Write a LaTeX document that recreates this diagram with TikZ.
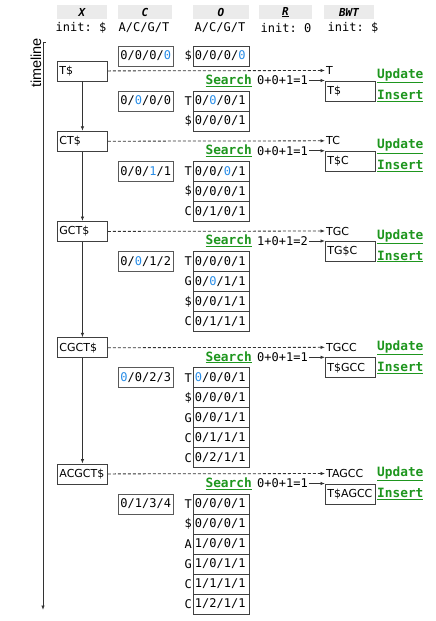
\documentclass[tikz,border=0pt]{standalone}
\usepackage{fontspec}
\setmainfont{DejaVu Sans}
\setmonofont{DejaVu Sans Mono}
\newfontfamily\tlfont{Liberation Sans}
\usetikzlibrary{arrows.meta}
\definecolor{hlblue}{RGB}{40,140,230}
\definecolor{opgreen}{RGB}{30,150,30}
\definecolor{hdrgray}{RGB}{235,235,235}
\newcommand\hlb[1]{\textcolor{hlblue}{#1}}
\newcommand\opname[1]{\textcolor{opgreen}{\underline{#1}}}
\begin{document}
\begin{tikzpicture}[x=1pt,y=-1pt,
    hdr/.style={fill=hdrgray,minimum width=#1,minimum height=14,inner sep=0pt,
      font=\fontsize{11}{13}\selectfont\ttfamily\bfseries\itshape},
    mono/.style={inner sep=1pt,font=\fontsize{12}{14}\selectfont\ttfamily},
    sans/.style={inner sep=1pt,font=\fontsize{11}{13}\selectfont},
    op/.style={inner sep=1pt,font=\fontsize{12.8}{14}\selectfont\ttfamily\bfseries},
    box/.style={draw=black!75,line width=.9pt,minimum height=20,inner xsep=2pt,
      inner ysep=0pt,align=left,anchor=north west},
    xbox/.style={box,text width=46,font=\fontsize{11}{13}\selectfont},
    bbox/.style={box,text width=46,font=\fontsize{11}{13}\selectfont},
    cbox/.style={box,draw=black!65,text width=51,font=\fontsize{12}{14}\selectfont\ttfamily},
    obox/.style={box,text width=53,inner xsep=1.5pt,font=\fontsize{12}{14}\selectfont\ttfamily},
    flow/.style={line width=.8pt,black!80,-{Latex[length=4.5pt,width=3.5pt]}},
    dline/.style={flow,dash pattern=on 3pt off 2pt}]
  \useasboundingbox (0,0) rectangle (436,621);
  \node[hdr=50] (hX) at (82,12) {X};
  \node[hdr=54] (hC) at (145,12) {C};
  \node[hdr=56] (hO) at (221,12) {O};
  \node[hdr=53] (hR) at (285.5,12) {\underline{R}};
  \node[hdr=50] (hB) at (349,12) {BWT};
  \node[mono] (iX) at (81,28) {init: \$};
  \node[mono] (iC) at (144,28) {A/C/G/T};
  \node[mono] (iO) at (220,28) {A/C/G/T};
  \node[mono] (iR) at (286,28) {init: 0};
  \node[mono] (iB) at (353,28) {init: \$};
  \coordinate (t0) at (43,42);
  \coordinate (t1) at (43,610);
  \draw[flow] (t0) -- (t1);
  \draw[line width=.8pt,black!80] (t0) -- ++(3,0);
  \node[rotate=90,inner sep=0pt,font=\fontsize{14.5}{16}\selectfont\tlfont] (tl) at (36,63) {timeline};
  \node[cbox] (c0) at (118,45.5) {0/0/0/\hlb{0}};
  \node[obox] (o0) at (193,45.5) {0/0/0/\hlb{0}};
  \node[mono,anchor=east] at (o0.west) {\$};
  \foreach \k/\y/\xs/\bl/\bb/\sm/\cv/\up/\rows in {
    1/60.5/T\$/T/T\$/0+0+1=1/{0/\hlb{0}/0/0}/15.5/{T/{0/\hlb{0}/0/1},\$/{0/0/0/1}},
    2/130.8/CT\$/TC/T\$C/0+0+1=1/{0/0/\hlb{1}/1}/15.5/{T/{0/0/\hlb{0}/1},\$/{0/0/0/1},C/{0/1/0/1}},
    3/221/GCT\$/TGC/TG\$C/1+0+1=2/{0/\hlb{0}/1/2}/15.5/{T/{0/0/0/1},G/{0/\hlb{0}/1/1},\$/{0/0/1/1},C/{0/1/1/1}},
    4/337.3/CGCT\$/TGCC/T\$GCC/0+0+1=1/{\hlb{0}/0/2/3}/10.5/{T/{\hlb{0}/0/0/1},\$/{0/0/0/1},G/{0/0/1/1},C/{0/1/1/1},C/{0/2/1/1}},
    5/463.5/ACGCT\$/TAGCC/T\$AGCC/0+0+1=1/{0/1/3/4}/10.5/{T/{0/0/0/1},\$/{0/0/0/1},A/{1/0/0/1},G/{1/0/1/1},C/{1/1/1/1},C/{1/2/1/1}}} {
    \begin{scope}[shift={(0,\y)}]
      \node[xbox] (x\k) at (57,0) {\xs};
      \node[sans,anchor=west] (l\k) at (325,10) {\bl};
      \draw[dline] (x\k) -- (l\k);
      \node[op,anchor=east] (s\k) at (253,20) {\opname{Search}};
      \node[mono,anchor=west] (m\k) at (256,20) {\sm};
      \node[bbox] (b\k) at (325,20) {\bb};
      \draw[flow] (m\k) -- (b\k.north west);
      \node[op,anchor=west] (u\k) at (376,\up) {\opname{Update}};
      \node[op,anchor=west] (n\k) at (376,\up+20) {\opname{Insert}};
      \node[cbox] (c\k) at (118,30) {\cv};
      \foreach \lt/\v [count=\i] in \rows {
        \node[obox] (o\k-\i) at (193,{30+20*(\i-1)}) {\v};
        \node[mono,anchor=east] at (o\k-\i.west) {\lt};
      }
    \end{scope}
  }
  \foreach \a/\b in {1/2,2/3,3/4,4/5}
    \draw[flow] (x\a) -- (x\b);
\end{tikzpicture}
\end{document}
